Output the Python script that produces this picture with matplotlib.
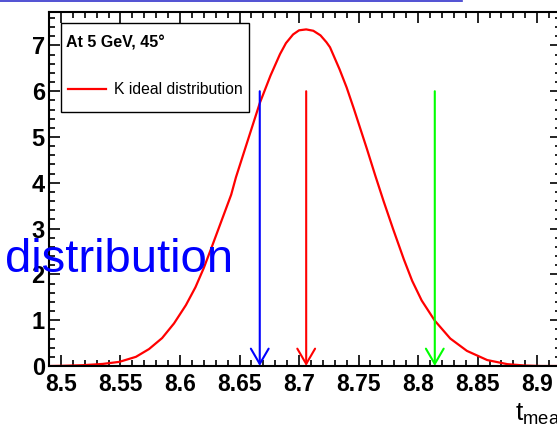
import matplotlib
matplotlib.use("Agg")
import matplotlib.pyplot as plt
from matplotlib.ticker import MultipleLocator, FuncFormatter
from matplotlib.patches import Rectangle
from matplotlib.lines import Line2D

plt.rcParams["font.family"] = ["Liberation Sans", "DejaVu Sans"]
plt.rcParams["mathtext.default"] = "regular"

# K ideal distribution
t_vals = [8.49, 8.50, 8.518, 8.535, 8.549, 8.563, 8.574, 8.585, 8.595, 8.605,
          8.613, 8.620, 8.627, 8.636, 8.643, 8.647, 8.656, 8.667, 8.676, 8.684,
          8.689, 8.695, 8.700, 8.706, 8.712, 8.718, 8.723, 8.726, 8.734, 8.740,
          8.746, 8.757, 8.764, 8.771, 8.779, 8.788, 8.795, 8.803, 8.814, 8.827,
          8.841, 8.858, 8.875, 8.89, 8.903, 8.92]
pdf_vals = [0.0, 0.004, 0.017, 0.045, 0.09, 0.20, 0.37, 0.61, 0.93, 1.33,
            1.72, 2.14, 2.62, 3.25, 3.74, 4.12, 4.85, 5.74, 6.34, 6.81,
            7.05, 7.24, 7.33, 7.35, 7.32, 7.22, 7.07, 6.96, 6.48, 6.08,
            5.62, 4.74, 4.16, 3.60, 2.99, 2.33, 1.86, 1.43, 0.99, 0.60,
            0.33, 0.13, 0.04, 0.01, 0.0, 0.0]

# vertical arrows (position, colour), all from 6 down to 0
arrow_t = [8.667, 8.706, 8.814]
arrow_colors = ["#0000ff", "#ff0000", "#00ff00"]
arrow_top = 6.0

fig = plt.figure(figsize=(5.57, 4.26), dpi=100)
W, H = 557, 426
ax = fig.add_axes([49 / W, 1 - 366 / H, (561 - 49) / W, (366 - 12) / H])

curve, = ax.plot(t_vals, pdf_vals, color="#ff0000", lw=1.6, label="K ideal distribution")

for t, c in zip(arrow_t, arrow_colors):
    ax.annotate("", xy=(t, 0), xytext=(t, arrow_top),
                arrowprops=dict(arrowstyle="->,head_length=0.55,head_width=0.32",
                                color=c, lw=1.5, shrinkA=0, shrinkB=0,
                                mutation_scale=20))

ax.set_xlim(8.49, 8.92)
ax.set_ylim(0, 7.73)
ax.xaxis.set_major_locator(MultipleLocator(0.05))
ax.xaxis.set_minor_locator(MultipleLocator(0.01))
ax.yaxis.set_major_locator(MultipleLocator(1))
ax.yaxis.set_minor_locator(MultipleLocator(0.2))
ax.xaxis.set_major_formatter(FuncFormatter(lambda v, p: "%g" % round(v, 3)))
ax.tick_params(which="both", direction="in", top=True, right=True, width=1.2)
ax.tick_params(which="major", length=8)
ax.tick_params(which="minor", length=4)
ax.tick_params(axis="x", labelsize=16.5, pad=5)
ax.tick_params(axis="y", labelsize=17, pad=3)
for lab in ax.get_xticklabels() + ax.get_yticklabels():
    lab.set_fontweight("bold")
for s in ax.spines.values():
    s.set_linewidth(1.5)

# legend box
ax.add_patch(Rectangle((61 / W, 1 - 112 / H), (249 - 61) / W, (112 - 23) / H,
                       transform=fig.transFigure, facecolor="white",
                       edgecolor="black", lw=1.0, zorder=5, clip_on=False))
ax.text(66 / W, 1 - 43 / H, "At 5 GeV, 45°", transform=fig.transFigure,
        fontsize=11.5, fontweight="bold", va="center", ha="left", zorder=6)
leg = ax.legend(handles=[curve], loc="center left",
                bbox_to_anchor=(68 / W, 1 - 90 / H), bbox_transform=fig.transFigure,
                frameon=False, fontsize=11.3, borderpad=0, borderaxespad=0,
                handlelength=2.4, handletextpad=0.55)
leg.set_zorder(7)

# stray text pieces
fig.text(5 / W, 1 - 272 / H, "distribution", fontsize=34, color="#0000ff",
         ha="left", va="baseline")
fig.text(515 / W, 1 - 420 / H, r"$t_{meas}$ (ns)", fontsize=19,
         ha="left", va="baseline")
fig.add_artist(Line2D([0, 462 / W], [1 - 0.6 / H, 1 - 0.6 / H],
                      transform=fig.transFigure, color="#3333cc", lw=1.2))

fig.savefig("out.png", dpi=100)
